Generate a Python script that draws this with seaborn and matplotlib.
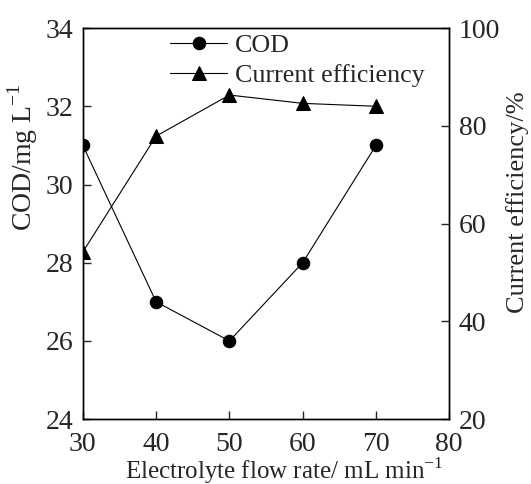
import matplotlib
matplotlib.use("Agg")
import matplotlib.pyplot as plt
import seaborn as sns
import pandas as pd

# data
flow_rate = [30, 40, 50, 60, 70]
cod = [31, 27, 26, 28, 31]
current_eff = [54.2, 77.9, 86.3, 84.6, 84.0]

sns.set_style("ticks")
plt.rcParams["font.family"] = ["Liberation Serif", "DejaVu Serif"]
plt.rcParams["mathtext.fontset"] = "custom"
plt.rcParams["mathtext.rm"] = "Liberation Serif"
plt.rcParams["xtick.direction"] = "in"
plt.rcParams["ytick.direction"] = "in"

df = pd.DataFrame({"flow": flow_rate, "cod": cod, "eff": current_eff})

fig = plt.figure(figsize=(5.31, 4.84), dpi=100)
ax = fig.add_axes([0.156, 0.134, 0.69, 0.808])
ax2 = ax.twinx()

sns.lineplot(data=df, x="flow", y="cod", ax=ax, color="black", lw=0.8,
             marker="o", markersize=9, markeredgecolor="black", label="COD",
             legend=False)
sns.lineplot(data=df, x="flow", y="eff", ax=ax2, color="black", lw=0.8,
             marker="^", markersize=10, markeredgecolor="black",
             label="Current efficiency", legend=False)

ax.set_xlim(30, 80)
ax.set_ylim(24, 34)
ax2.set_ylim(20, 100)
ax.set_xticks([30, 40, 50, 60, 70, 80])
ax.set_yticks([24, 26, 28, 30, 32, 34])
ax2.set_yticks([20, 40, 60, 80, 100])

ax.set_xlabel("Electrolyte flow rate/ mL min$^{-1}$", fontsize=18)
ax.set_ylabel("COD/mg L$^{-1}$", fontsize=20)
ax2.set_ylabel("Current efficiency/%", fontsize=19)
ax.xaxis.set_label_coords(0.549, -0.092)
ax.yaxis.set_label_coords(-0.117, 0.67)
ax2.yaxis.set_label_coords(1.155, 0.555)

for a in (ax, ax2):
    a.tick_params(labelsize=20, length=6, width=1, direction="in")
    for s in a.spines.values():
        s.set_linewidth(1.0)
        s.set_color("black")
ax.tick_params(top=False, pad=7)
ax.tick_params(axis="x", pad=9)
ax2.tick_params(pad=7)

h1, l1 = ax.get_legend_handles_labels()
h2, l2 = ax2.get_legend_handles_labels()
ax2.legend(h1 + h2, l1 + l2, loc="upper left", bbox_to_anchor=(0.238, 0.985),
           frameon=False, fontsize=18.7, handlelength=2.2, handletextpad=0.3,
           labelspacing=0.25, borderaxespad=0, borderpad=0)

fig.savefig("out.png", dpi=100)
